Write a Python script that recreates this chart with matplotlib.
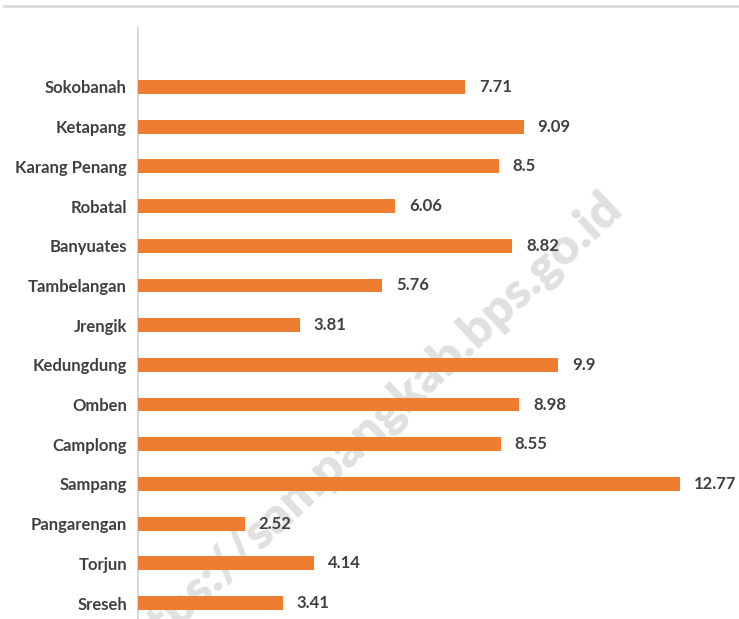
import matplotlib
matplotlib.use("Agg")
import matplotlib.pyplot as plt
from matplotlib.lines import Line2D

# Kecamatan names (bottom to top, as drawn) and their values
districts = ["Sreseh", "Torjun", "Pangarengan", "Sampang", "Camplong", "Omben",
             "Kedungdung", "Jrengik", "Tambelangan", "Banyuates", "Robatal",
             "Karang Penang", "Ketapang", "Sokobanah"]
values = [3.41, 4.14, 2.52, 12.77, 8.55, 8.98, 9.9, 3.81, 5.76, 8.82, 6.06, 8.5, 9.09, 7.71]
value_labels = ["3.41", "4.14", "2.52", "12.77", "8.55", "8.98", "9.9", "3.81",
                "5.76", "8.82", "6.06", "8.5", "9.09", "7.71"]

BAR_COLOR = "#ED7D31"
TEXT_COLOR = "#404040"
LINE_COLOR = "#D9D9D9"

plt.rcParams["font.family"] = ["Lato", "DejaVu Sans"]

W, H = 739, 619
fig = plt.figure(figsize=(W / 100, H / 100), dpi=100)

# axes placed in pixel terms
left, right, top, bottom = 138, 720, 28, 619
ax = fig.add_axes([left / W, 1 - bottom / H, (right - left) / W, (bottom - top) / H])
ax.set_zorder(2)
ax.set_facecolor("none")

# watermark behind everything
fig.text(614 / W, 1 - 200 / H, "https://sampangkab.bps.go.id", rotation=43,
         rotation_mode="anchor", fontsize=36, fontweight="heavy", color="#E0E0E0",
         ha="right", va="center", zorder=0)

pos = list(range(len(districts)))
ax.barh(pos, values, height=0.35, color=BAR_COLOR, zorder=3)

for p, v, lab in zip(pos, values, value_labels):
    ax.annotate(lab, (v, p), xytext=(10, 0), textcoords="offset points",
                ha="left", va="center", fontsize=12, fontweight="bold",
                color=TEXT_COLOR)

ax.set_yticks(pos)
ax.set_yticklabels(districts, fontsize=12, fontweight="bold", color=TEXT_COLOR)
ax.tick_params(axis="y", length=0, pad=8)
ax.set_xticks([])

px_per_unit = 42.44
ax.set_xlim(0, (right - left) / px_per_unit)
ax.set_ylim(-0.403, 14.486)

for s in ["top", "right", "bottom"]:
    ax.spines[s].set_visible(False)
ax.spines["left"].set_color(LINE_COLOR)
ax.spines["left"].set_linewidth(1.5)

# thin gray rule at the very top
fig.add_artist(Line2D([4 / W, 1], [1 - 6 / H, 1 - 6 / H], color=LINE_COLOR, linewidth=2))

fig.savefig("out.png", dpi=100)
